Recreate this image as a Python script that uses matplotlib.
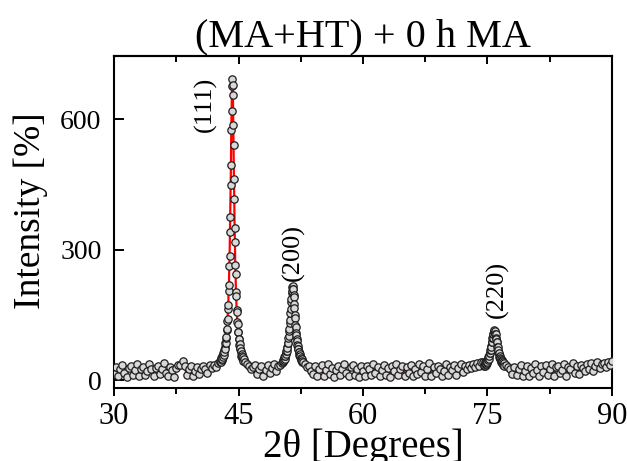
import numpy as np
import matplotlib
matplotlib.use("Agg")
import matplotlib.pyplot as plt
from matplotlib.ticker import MultipleLocator

# XRD scan, (MA+HT) + 0 h MA sample; intensity per segment of the 2theta scan
# background between peaks (0.25 deg steps), peak windows (0.04 deg steps)
bg_a = [14, 30, 9, 26, 35, 17, 8, 28, 33, 13, 24, 37, 10, 27, 31, 12, 22, 38,
        25, 9, 29, 34, 14, 26, 39, 16, 10, 31, 23, 7, 28, 35, 36, 44, 33, 12,
        27, 32, 9, 21, 30, 14, 25, 34, 27, 17, 35, 29, 36, 31, 39, 42]
pk_111 = [44, 49, 43, 52, 47, 55, 50, 58, 54, 63, 59, 69, 66, 77, 73, 86, 85, 98,
          99, 115, 118, 136, 141, 165, 174, 205, 219, 262, 286, 340, 376, 448,
          494, 575, 618, 676, 693, 679, 657, 588, 541, 462, 417, 351, 318, 266,
          244, 204, 193, 162, 157, 133, 130, 110, 111, 95, 94, 82, 84, 72, 75,
          64, 67, 57, 61, 52, 57, 48, 53, 45, 50]
bg_b = [42, 38, 33, 25, 30, 36, 14, 27, 32, 11, 24, 35, 18, 29, 37, 22, 34, 36, 40]
pk_200 = [42, 47, 44, 50, 46, 53, 50, 57, 55, 62, 60, 68, 67, 76, 75, 85, 86, 98,
          101, 113, 118, 132, 139, 155, 163, 179, 187, 201, 206, 214, 216, 211,
          209, 197, 191, 175, 167, 151, 143, 128, 122, 109, 105, 94, 91, 81, 80,
          72, 71, 64, 65, 58, 60, 53, 55, 49, 51, 46, 48, 43, 45]
bg_c = [42, 38, 30, 34, 21, 14, 33, 11, 26, 35,
        9, 24, 37, 15, 29, 8, 23, 34, 12, 27,
        38, 16, 10, 30, 35, 13, 25, 7, 32, 22,
        11, 34, 27, 12, 37, 17, 30, 9, 24, 36,
        13, 28, 8, 33, 21, 38, 12, 26, 34, 10,
        30, 18, 35, 9, 27, 14, 37, 20, 32, 11,
        25, 39, 10, 30, 17, 34, 26, 9, 22, 37,
        13, 31, 24, 36, 12, 29, 38, 19, 33, 26,
        35, 28, 38, 31, 40, 34, 41, 43]
pk_220 = [33, 39, 34, 41, 36, 42, 38, 44, 40, 47, 43, 50, 46, 53, 50, 58, 55, 63,
          62, 70, 69, 78, 77, 88, 87, 97, 98, 107, 107, 114, 112, 116, 111, 113,
          106, 106, 97, 96, 87, 87, 77, 77, 68, 69, 61, 62, 54, 57, 49, 52, 45,
          49, 42, 46, 39, 44, 37, 41, 35, 40, 34]
bg_d = [36, 31, 27, 15, 30, 12, 26, 35, 10, 22,
        34, 9, 29, 17, 37, 23, 11, 32, 20, 36,
        13, 27, 38, 11, 30, 34, 16, 24, 37, 10,
        31, 25, 39, 18, 33, 14, 36, 28, 21, 38,
        27, 40, 22, 34, 41, 29, 37, 40, 31, 42,
        36, 44]

# (start, end) of each scan segment in 2theta
segments = [((30.00, 42.75), bg_a), ((42.80, 45.60), pk_111),
            ((45.75, 50.25), bg_b), ((50.30, 52.70), pk_200),
            ((52.75, 74.50), bg_c), ((74.60, 77.00), pk_220),
            ((77.25, 90.00), bg_d)]

hkl = ['(111)', '(200)', '(220)']
hkl_pos = [(41.0, 635), (51.6, 293), (76.2, 210)]

two_theta = np.concatenate([np.linspace(a, b, len(v)) for (a, b), v in segments])
intensity = np.concatenate([np.array(v, float) for _, v in segments])

plt.rcParams['font.family'] = ['Liberation Serif', 'DejaVu Serif']

fig = plt.figure(figsize=(6.27, 4.61), dpi=100)
ax = fig.add_axes([0.182, 0.158, 0.794, 0.720])

ax.plot(two_theta, intensity, color='red', lw=1.6, zorder=2)
ax.plot(two_theta, intensity, ls='none', marker='o', ms=5.3,
        mfc='#d8d8d8', mec='#1e1e1e', mew=0.9, zorder=3)

for lab, (x, y) in zip(hkl, hkl_pos):
    ax.text(x, y, lab, rotation=90, ha='center', va='center', fontsize=19)

ax.set_xlim(30, 90)
ax.set_ylim(-18, 745)
ax.set_xticks([30, 45, 60, 75, 90])
ax.xaxis.set_minor_locator(MultipleLocator(7.5))
ax.set_yticks([0, 300, 600])

ax.tick_params(axis='x', which='both', direction='out', top=False,
               labelsize=22, width=1.4, pad=4)
ax.tick_params(axis='x', which='major', length=6)
ax.tick_params(axis='x', which='minor', length=4)
ax.tick_params(axis='y', direction='in', right=False, labelsize=20,
               length=7, width=1.4, pad=9)

# top spine carries inward ticks
sec = ax.secondary_xaxis('top')
sec.set_xticks([30, 45, 60, 75, 90])
sec.xaxis.set_minor_locator(MultipleLocator(7.5))
sec.tick_params(which='both', direction='in', labeltop=False, width=1.4)
sec.tick_params(which='major', length=6)
sec.tick_params(which='minor', length=4)

for s in ax.spines.values():
    s.set_linewidth(1.5)
sec.spines['top'].set_linewidth(1.5)

ax.set_xlabel('2θ [Degrees]', fontsize=28, labelpad=-2)
ax.set_ylabel('Intensity [%]', fontsize=27)
ax.yaxis.set_label_coords(-0.132, 0.535)
ax.set_title('(MA+HT) + 0 h MA', fontsize=29, pad=7)

fig.savefig('out.png', dpi=100)
